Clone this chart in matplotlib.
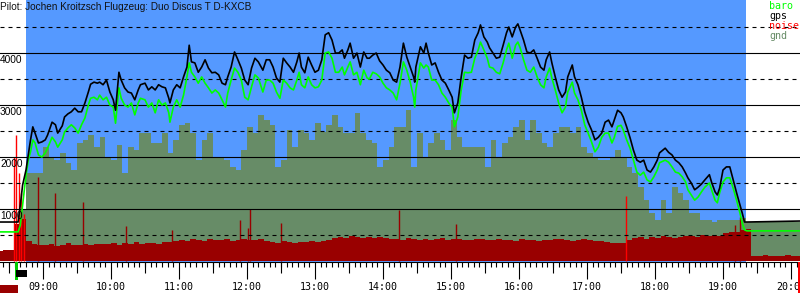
import matplotlib
matplotlib.use("Agg")
import matplotlib.pyplot as plt
import matplotlib.transforms as mtransforms
from matplotlib.patches import Rectangle
import numpy as np

# ---------------- data ----------------
title = "Pilot: Jochen Kroitzsch Flugzeug: Duo Discus T D-KXCB"
legend_names = ["baro", "gps", "noise", "gnd"]
y_tick_values = [1000, 2000, 3000, 4000]
x_tick_hours = [9, 10, 11, 12, 13, 14, 15, 16, 17, 18, 19, 20]
x_tick_labels = ["09:00", "10:00", "11:00", "12:00", "13:00", "14:00",
                 "15:00", "16:00", "17:00", "18:00", "19:00", "20:00"]

flight_start = "08:45"
flight_end = "19:20"

track_times = [
    "08:22", "08:37", "08:38", "08:40", "08:42", "08:45", "08:47", "08:49", "08:51", "08:53",
    "08:56", "08:59", "09:02", "09:04", "09:08", "09:11", "09:13", "09:17", "09:19", "09:22",
    "09:25", "09:28", "09:31", "09:34", "09:37", "09:40", "09:42", "09:45", "09:48", "09:50",
    "09:53", "09:56", "09:59", "10:02", "10:04", "10:07", "10:09", "10:12", "10:15", "10:18",
    "10:21", "10:24", "10:26", "10:30", "10:33", "10:36", "10:39", "10:42", "10:45", "10:48",
    "10:51", "10:52", "10:55", "10:58", "11:01", "11:04", "11:07", "11:09", "11:11", "11:14",
    "11:17", "11:20", "11:23", "11:26", "11:29", "11:32", "11:35", "11:38", "11:41", "11:43",
    "11:46", "11:49", "11:52", "11:55", "11:58", "12:01", "12:04", "12:07", "12:10", "12:14",
    "12:17", "12:20", "12:23", "12:26", "12:29", "12:32", "12:35", "12:38", "12:41", "12:44",
    "12:46", "12:48", "12:51", "12:54", "12:57", "13:00", "13:03", "13:06", "13:09", "13:12",
    "13:15", "13:18", "13:21", "13:24", "13:26", "13:29", "13:31", "13:34", "13:37", "13:40",
    "13:43", "13:46", "13:48", "13:51", "13:54", "13:57", "14:00", "14:03", "14:06", "14:09",
    "14:12", "14:15", "14:18", "14:21", "14:24", "14:27", "14:28", "14:29", "14:33", "14:36",
    "14:38", "14:40", "14:43", "14:46", "14:49", "14:52", "14:55", "14:58", "15:01", "15:03",
    "15:06", "15:09", "15:12", "15:15", "15:18", "15:21", "15:24", "15:26", "15:29", "15:32",
    "15:34", "15:37", "15:40", "15:43", "15:46", "15:49", "15:51", "15:54", "15:57", "15:59",
    "16:01", "16:04", "16:07", "16:10", "16:13", "16:16", "16:19", "16:22", "16:24", "16:27",
    "16:29", "16:32", "16:35", "16:38", "16:41", "16:43", "16:47", "16:49", "16:52", "16:55",
    "16:58", "17:01", "17:04", "17:07", "17:10", "17:13", "17:16", "17:19", "17:22", "17:24",
    "17:27", "17:30", "17:32", "17:35", "17:38", "17:41", "17:44", "17:47", "17:50", "17:53",
    "17:56", "17:59", "18:02", "18:04", "18:09", "18:12", "18:15", "18:18", "18:21", "18:24",
    "18:27", "18:29", "18:32", "18:35", "18:38", "18:41", "18:44", "18:48", "18:50", "18:53",
    "18:55", "18:57", "19:00", "19:03", "19:06", "19:09", "19:12", "19:15", "19:17", "19:19",
    "19:21", "20:10",
]

gps_alt = [
    740, 740, 740, 1070, 1450, 1740, 2030, 2320, 2570, 2450,
    2260, 2280, 2320, 2410, 2660, 2610, 2450, 2590, 2760, 2820,
    2860, 2930, 2860, 2860, 3030, 3240, 3390, 3430, 3410, 3430,
    3380, 3470, 3240, 3090, 2890, 3620, 3470, 3320, 3240, 3220,
    3090, 3280, 3380, 3410, 3280, 3340, 3280, 3380, 3340, 3320,
    3120, 3030, 3280, 3380, 3320, 3530, 3720, 4140, 3820, 3800,
    3620, 3720, 3860, 3700, 3610, 3620, 3570, 3410, 3380, 3530,
    3720, 4010, 3860, 3700, 3470, 3380, 3700, 3890, 3820, 3660,
    3860, 3860, 3720, 3510, 3430, 3890, 3800, 3720, 3620, 3820,
    3990, 3720, 3610, 3910, 3760, 3620, 3660, 3860, 4340, 4380,
    4240, 3990, 3990, 4050, 3890, 4050, 4180, 3890, 3990, 3720,
    4010, 3890, 3890, 3950, 3990, 3840, 3760, 3660, 3610, 3470,
    3430, 3720, 4180, 3910, 3720, 3530, 3430, 3720, 4110, 3990,
    4180, 3990, 3760, 3800, 3620, 3470, 3410, 3280, 3140, 2840,
    3030, 3530, 3950, 3890, 3910, 4240, 4380, 4530, 4300, 4200,
    4090, 3990, 3890, 3910, 4140, 4380, 4490, 4300, 4490, 4550,
    4430, 4240, 4010, 3990, 4050, 3890, 3720, 3660, 3860, 4010,
    3800, 3530, 3280, 3140, 3240, 3530, 3760, 3530, 3380, 3140,
    2860, 2660, 2510, 2320, 2370, 2450, 2660, 2700, 2570, 2700,
    2890, 2840, 2760, 2570, 2360, 2120, 1930, 1890, 1930, 1740,
    1700, 1800, 1930, 2070, 2160, 2080, 2030, 1930, 1880, 1800,
    1680, 1590, 1490, 1360, 1410, 1470, 1550, 1650, 1500, 1320,
    1260, 1390, 1740, 1800, 1800, 1550, 1300, 1070, 910, 740,
    740, 760,
]

baro_alt = [
    550, 550, 550, 680, 1070, 1640, 1930, 2090, 2320, 2260,
    2030, 1990, 2070, 2160, 2370, 2280, 2180, 2320, 2470, 2550,
    2610, 2550, 2450, 2610, 2740, 2990, 3120, 3140, 3090, 3180,
    3090, 3140, 2990, 2950, 2640, 3320, 3120, 2990, 2950, 3030,
    2800, 3030, 3120, 3090, 2950, 3030, 2840, 3090, 2990, 3030,
    2840, 2660, 2950, 3090, 2950, 3180, 3530, 3800, 3620, 3530,
    3410, 3530, 3410, 3320, 3220, 3280, 3220, 3090, 2950, 3220,
    3470, 3700, 3620, 3470, 3140, 3090, 3340, 3570, 3510, 3240,
    3470, 3470, 3410, 3240, 3120, 3470, 3410, 3320, 3280, 3470,
    3620, 3380, 3320, 3530, 3380, 3320, 3340, 3470, 3990, 4010,
    3890, 3620, 3620, 3720, 3570, 3720, 3820, 3570, 3620, 3380,
    3660, 3510, 3490, 3620, 3590, 3530, 3410, 3320, 3280, 3220,
    3090, 3410, 3820, 3660, 3430, 3140, 2950, 3280, 3800, 3700,
    3760, 3720, 3470, 3470, 3380, 3220, 3140, 3030, 2950, 2570,
    2760, 3280, 3620, 3610, 3620, 3890, 4050, 4200, 4050, 3890,
    3720, 3700, 3620, 3590, 3800, 4050, 4180, 3890, 4140, 4200,
    4090, 3860, 3660, 3620, 3720, 3530, 3380, 3320, 3530, 3700,
    3510, 3280, 3030, 2840, 2950, 3240, 3430, 3220, 3090, 2890,
    2610, 2450, 2280, 2090, 2180, 2370, 2450, 2450, 2260, 2360,
    2580, 2600, 2510, 2320, 2160, 1930, 1700, 1640, 1700, 1550,
    1510, 1610, 1740, 1880, 1930, 1890, 1800, 1700, 1680, 1610,
    1510, 1360, 1260, 1160, 1220, 1320, 1410, 1490, 1360, 1160,
    1110, 1300, 1510, 1590, 1590, 1390, 1160, 910, 720, 590,
    570, 570,
]

# ground elevation, one value every 5 minutes starting 08:40
gnd_start = "08:40"
gnd_elev = [
    970, 1680, 1680, 1680, 2180, 1990, 1930, 2070, 1880, 1740,
    2260, 2320, 2410, 2180, 2370, 1990, 1930, 2220, 1680, 2180,
    2120, 2450, 2450, 2260, 2260, 2450, 2070, 2320, 2600, 2640,
    2450, 1930, 2320, 2450, 1990, 1990, 1930, 1800, 1740, 2120,
    2570, 2450, 2800, 2700, 2600, 1800, 1930, 2510, 2180, 2510,
    2450, 2320, 2640, 2470, 2600, 2800, 2570, 2450, 2450, 2840,
    2450, 2320, 2260, 1800, 1930, 2180, 2570, 2570, 2890, 1800,
    2450, 1990, 2260, 2450, 2320, 2120, 2700, 2370, 2180, 2180,
    2180, 2180, 1800, 2320, 1990, 2260, 2370, 2570, 2700, 2320,
    2700, 2450, 2260, 2180, 2450, 2570, 2570, 2450, 2570, 2180,
    2070, 1990, 1930, 1930, 1990, 2120, 1990, 1800, 1680, 1410,
    1160, 910, 780, 1160, 910, 1410, 1300, 1160, 910, 910,
    780, 780, 740, 780, 780, 780, 780, 820, 740, 740,
    740, 740, 740, 740, 740, 740, 740, 740, 740,
]

# noise level, one value every 5 minutes starting 08:20
noise_start = "08:20"
noise_level = [
    190, 200, 210, 700, 800, 380,
    320, 300, 290, 310, 280, 300, 330, 290, 300, 310, 290, 320,
    320, 310, 340, 300, 330, 320, 350, 310, 330, 340, 320, 350, 360,
    380, 400, 370, 410, 390, 380, 420, 400, 390, 410, 380, 400, 420, 390, 400, 410, 380,
    350, 340, 370, 350, 330, 360, 350, 370, 360, 380, 400,
    430, 450, 440, 470, 450, 430, 460, 440, 450, 430,
    410, 420, 400, 430, 410, 390, 420, 400, 410, 430, 400, 420, 410, 390, 400, 410, 420, 400, 390, 410,
    400, 390, 380, 410, 390, 400, 380, 390, 400, 420, 410, 390, 380, 400, 410, 390, 380, 370,
    350, 340, 330, 340,
    400, 430, 450, 420, 460, 440, 470, 450, 430, 460,
    470, 480, 460, 500, 470, 490, 480,
    520, 550, 540, 580, 600,
    90, 80, 100, 90, 80, 90, 100, 80, 90, 90,
]

noise_spike_times = ["08:56", "09:11", "09:35", "10:13", "10:54", "11:54", "12:01",
                     "12:03", "12:30", "14:14", "15:04", "19:11", "19:15"]
noise_spike_vals = [1600, 1290, 1120, 660, 590, 780, 620, 990, 720, 970, 700, 680, 840]

engine_spike_times = ["08:34", "08:36", "08:39", "08:41", "08:43", "17:34"]
engine_spike_vals = [1990, 2410, 1680, 1300, 900, 1240]

# ---------------- helpers ----------------
def hrs(s):
    h, m = s.split(":")
    return int(h) + int(m) / 60.0

assert len(track_times) == len(gps_alt) == len(baro_alt)
t_track = np.array([hrs(s) for s in track_times])
t_gnd = hrs(gnd_start) + np.arange(len(gnd_elev)) * 5 / 60.0
t_noise = hrs(noise_start) + np.arange(len(noise_level)) * 5 / 60.0

C_BLUE = "#5599ff"
C_GND = "#678c67"
C_NOISE = "#990000"
C_RED = "#ff0000"
C_BARO = "#00ff00"

W, H = 800, 300
fig = plt.figure(figsize=(8, 3), dpi=100, facecolor="white")
ax = fig.add_axes([0, 38 / H, 1, 262 / H])
ax.set_facecolor("white")

x0 = 9 - 43 / 68.0
ax.set_xlim(x0, x0 + 800 / 68.0)
ax.set_ylim(-1.5 * 1000 / 52, 260.5 * 1000 / 52)

ax.axvspan(hrs(flight_start), hrs(flight_end), color=C_BLUE, lw=0, zorder=0)
ax.fill_between(t_gnd, 0, gnd_elev, step="post", color=C_GND, lw=0, zorder=1)
ax.fill_between(t_noise, 0, noise_level, step="post", color=C_NOISE, lw=0, zorder=2)
ax.vlines([hrs(s) for s in noise_spike_times], 0, noise_spike_vals,
          color=C_NOISE, lw=1.0, zorder=2)
ax.vlines([hrs(s) for s in engine_spike_times], 0, engine_spike_vals,
          color=C_RED, lw=1.0, zorder=2)

for v in range(500, 5000, 500):
    if v % 1000 == 0:
        ax.axhline(v, color="black", lw=0.8, zorder=3)
    else:
        ax.axhline(v, color="black", lw=0.8, ls=(0, (3.6, 3.6)), zorder=3)

ax.plot(t_track, baro_alt, color=C_BARO, lw=1.2, zorder=4)
ax.plot(t_track, gps_alt, color="black", lw=1.2, zorder=5)

# y labels hanging below the gridlines
blend = mtransforms.blended_transform_factory(ax.transAxes, ax.transData)
for v in y_tick_values:
    ax.text(0.0, v - 40, str(v), transform=blend, ha="left", va="top",
            fontsize=7.3, family="Liberation Sans", color="black", zorder=6)

# axes decoration
for s in ["top", "left", "right"]:
    ax.spines[s].set_visible(False)
ax.spines["bottom"].set_linewidth(0.8)
ax.set_yticks([])
ax.set_xticks(x_tick_hours)
ax.set_xticklabels(x_tick_labels, family="DejaVu Sans Mono", fontsize=7.2)
ax.set_xticks(np.arange(8 * 12 + 5, 20 * 12 + 2) / 12.0, minor=True)
ax.tick_params(axis="x", which="major", length=12.2, width=0.8, pad=2)
ax.tick_params(axis="x", which="minor", length=3.6, width=0.8)

sec = ax.secondary_xaxis("bottom")
sec.set_xticks(np.arange(8, 21) + 0.5)
sec.set_xticklabels([])
sec.tick_params(axis="x", length=7.9, width=0.8)
sec.spines["bottom"].set_visible(False)

# title and legend
fig.text(0.0, 1 - 1.5 / H, title, ha="left", va="top", fontsize=7.2,
         family="Liberation Sans", color="#111111")
leg_colors = [C_BARO, "black", C_RED, C_GND]
for i, (name, col) in enumerate(zip(legend_names, leg_colors)):
    fig.text(769 / W, 1 - (1 + 10 * i) / H, name, ha="left", va="top",
             fontsize=7.2, family="DejaVu Sans Mono", color=col)

# bottom markers
fig.patches.append(Rectangle((0, 7 / H), 18 / W, 8 / H, transform=fig.transFigure,
                             color=C_NOISE, lw=0))
fig.patches.append(Rectangle((15 / W, 20 / H), 3.3 / W, 18 / H, transform=fig.transFigure,
                             color="#00cc00", lw=0))
fig.patches.append(Rectangle((16 / W, 23 / H), 10.7 / W, 7 / H, transform=fig.transFigure,
                             color="black", lw=0))
fig.patches.append(Rectangle((798 / W, 7 / H), 2 / W, 31 / H, transform=fig.transFigure,
                             color=C_RED, lw=0))

fig.savefig("out.png", dpi=100, facecolor="white")
